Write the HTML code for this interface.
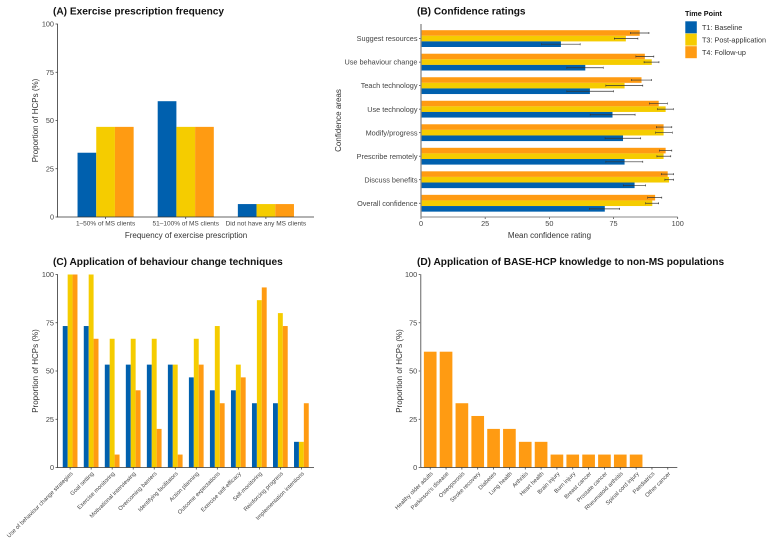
<!DOCTYPE html>
<html lang="en">
<head>
<meta charset="utf-8">
<title>HCP exercise prescription charts</title>
<style>
html,body{margin:0;padding:0;background:#fff;overflow:hidden;}
svg{display:block;filter:blur(0.3px);}
text{font-family:"Liberation Sans",sans-serif;fill:#333;}
.title{font-size:10.15px;font-weight:bold;fill:#111;}
.tick{font-size:7.3px;fill:#444;}
.cat{font-size:6.5px;fill:#444;}
.rot{font-size:5.75px;fill:#444;}
.axt{font-size:8px;fill:#333;}
.lg{font-size:7.25px;fill:#333;}
</style>
</head>
<body>
<svg id="chart" xmlns="http://www.w3.org/2000/svg" width="771" height="545" viewBox="0 0 771 545">
  <rect width="771" height="545" fill="#fff"/>
  <text class="title" x="53" y="14.5">(A) Exercise prescription frequency</text>
  <text class="title" x="417" y="14.5">(B) Confidence ratings</text>
  <text class="title" x="53" y="265">(C) Application of behaviour change techniques</text>
  <text class="title" x="417" y="265">(D) Application of BASE-HCP knowledge to non-MS populations</text>

  <text class="axt" x="186" y="238" text-anchor="middle">Frequency of exercise prescription</text>
  <text class="axt" transform="translate(38 120.5) rotate(-90)" text-anchor="middle">Proportion of HCPs (%)</text>
  <text class="axt" x="549.5" y="238" text-anchor="middle">Mean confidence rating</text>
  <text class="axt" transform="translate(341 120.5) rotate(-90)" text-anchor="middle">Confidence areas</text>
  <text class="axt" transform="translate(38 371) rotate(-90)" text-anchor="middle">Proportion of HCPs (%)</text>
  <text class="axt" transform="translate(402 371) rotate(-90)" text-anchor="middle">Proportion of HCPs (%)</text>

  <g>
    <text class="lg" x="685" y="16" style="font-weight:bold;fill:#111">Time Point</text>
    <rect x="685.3" y="21.3" width="11.5" height="12" fill="#0060ae"/>
    <rect x="685.3" y="33.6" width="11.5" height="12" fill="#f5cc00"/>
    <rect x="685.3" y="46.2" width="11.5" height="12" fill="#ff9b12"/>
    <text class="lg" x="702" y="30">T1: Baseline</text>
    <text class="lg" x="702" y="42.5">T3: Post-application</text>
    <text class="lg" x="702" y="55">T4: Follow-up</text>
  </g>
</svg>
<script>
const pctTicks = [0, 25, 50, 75, 100];
const ratingTicks = [0, 25, 50, 75, 100];

const aCategories = ["1\u201350% of MS clients", "51\u2013100% of MS clients", "Did not have any MS clients"];
const aBaseline = [33.3, 60, 6.7];
const aPost = [46.7, 46.7, 6.7];
const aFollow = [46.7, 46.7, 6.7];

const bCategories = ["Suggest resources", "Use behaviour change", "Teach technology", "Use technology", "Modify/progress", "Prescribe remotely", "Discuss benefits", "Overall confidence"];
const bBaseline = [54.5, 64, 65.8, 74.6, 78.7, 79.3, 83.2, 71.6];
const bBaselineLow = [47, 56.8, 56.8, 65.9, 71.7, 72, 78.8, 65.6];
const bBaselineHigh = [62, 71, 75, 83.4, 85.6, 86.4, 87.5, 77.4];
const bPost = [79.8, 89.9, 79.3, 95.3, 94.5, 94.5, 96.6, 90.1];
const bPostLow = [75.3, 86.9, 72, 92.2, 91.4, 91.9, 95, 87.5];
const bPostHigh = [84.5, 92.7, 86.4, 98.3, 97.9, 97.3, 98.4, 92.6];
const bFollow = [85.2, 87.2, 85.9, 92.6, 94.5, 95.3, 96.1, 91.2];
const bFollowLow = [81.6, 83.7, 82, 89, 91.7, 92.9, 93.6, 88.3];
const bFollowHigh = [88.8, 90.7, 89.8, 96, 97.7, 97.7, 98.4, 93.8];

const cCategories = ["Use of behaviour change strategies", "Goal setting", "Exercise monitoring", "Motivational interviewing", "Overcoming barriers", "Identifying facilitators", "Action planning", "Outcome expectations", "Exercise self-efficacy", "Self-monitoring", "Reinforcing progress", "Implementation intentions"];
const cBaseline = [73.3, 73.3, 53.3, 53.3, 53.3, 53.3, 46.7, 40, 40, 33.3, 33.3, 13.3];
const cPost = [100, 100, 66.7, 66.7, 66.7, 53.3, 66.7, 73.3, 53.3, 86.7, 80, 13.3];
const cFollow = [100, 66.7, 6.7, 40, 20, 6.7, 53.3, 33.3, 46.7, 93.3, 73.3, 33.3];

const dCategories = ["Healthy older adults", "Parkinson's disease", "Osteoporosis", "Stroke recovery", "Diabetes", "Lung health", "Arthritis", "Heart health", "Brain injury", "Burn injury", "Breast cancer", "Prostate cancer", "Rheumatoid arthritis", "Spinal cord injury", "Paediatrics", "Other cancer"];
const dFollow = [60, 60, 33.3, 26.7, 20, 20, 13.3, 13.3, 6.7, 6.7, 6.7, 6.7, 6.7, 6.7, 0, 0];

const BLUE = "#0060ae", YELLOW = "#f5cc00", ORANGE = "#ff9b12";
const NS = "http://www.w3.org/2000/svg";
const svg = document.getElementById("chart");

function make(tag, attrs) {
  const e = document.createElementNS(NS, tag);
  for (const k in attrs) e.setAttribute(k, attrs[k]);
  svg.appendChild(e);
  return e;
}
function linear(d0, d1, r0, r1) {
  return function (v) { return r0 + (v - d0) * (r1 - r0) / (d1 - d0); };
}
function band(n, r0, r1, pad) {
  const step = (r1 - r0) / (n - 1 + 2 * pad);
  const f = function (i) { return r0 + (pad + i) * step; };
  f.step = step;
  return f;
}
function drawBar(x, y, w, h, fill, name) {
  const r = make("rect", { x: x, y: y, width: Math.max(w, 0), height: Math.max(h, 0), fill: fill });
  
  
}
function drawLine(x1, y1, x2, y2, color, width, name) {
  const l = make("line", { x1: x1, y1: y1, x2: x2, y2: y2, stroke: color, "stroke-width": width });
  
  
}
function drawText(x, y, str, cls, anchor, name, rotate) {
  const t = make("text", { x: x, y: y, "class": cls, "text-anchor": anchor });
  if (rotate) t.setAttribute("transform", "rotate(" + rotate + " " + x + " " + y + ")");
  t.textContent = str;
  
  
}
function pctAxis(y, left, right, yColor, xColor, yWidth, prefix) {
  pctTicks.forEach(function (v) {
    drawLine(left - 2, y(v), left, y(v), "#333", 0.7, prefix + "-y-tick");
    drawText(left - 3.5, y(v) + 2.6, String(v), "tick", "end", prefix + "-y-tick-label");
  });
  drawLine(left, y(100) - 0.3, left, y(0) + 0.4, yColor, yWidth, prefix + "-y-axis");
  drawLine(left, y(0), right, y(0), xColor, 0.8, prefix + "-x-axis");
}

/* Panel A */
(function () {
  const left = 57.5, right = 314;
  const y = linear(0, 100, 217, 24);
  const x = band(aCategories.length, left, right, 0.6);
  const w = x.step * 0.7 / 3;
  const series = [[aBaseline, BLUE, "t1"], [aPost, YELLOW, "t3"], [aFollow, ORANGE, "t4"]];
  series.forEach(function (s, k) {
    s[0].forEach(function (v, i) {
      drawBar(x(i) - 1.5 * w + k * w, y(v), w, y(0) - y(v), s[1], "panel-a-bar-" + s[2]);
    });
  });
  pctAxis(y, left, right, "#333", "#333", 0.8, "panel-a");
  aCategories.forEach(function (c, i) {
    drawLine(x(i), y(0), x(i), y(0) + 2, "#333", 0.7, "panel-a-x-tick");
    drawText(x(i), 225.4, c, "cat", "middle", "panel-a-x-tick-label");
  });
})();

/* Panel B */
(function () {
  const left = 421, bottom = 217;
  const x = linear(0, 100, 421, 677.7);
  const rowY = function (i) { return 38.6 + i * 23.52; };
  const h = 5.6;
  const series = [
    [bFollow, bFollowLow, bFollowHigh, ORANGE, "t4", -1.5],
    [bPost, bPostLow, bPostHigh, YELLOW, "t3", -0.5],
    [bBaseline, bBaselineLow, bBaselineHigh, BLUE, "t1", 0.5]
  ];
  series.forEach(function (s) {
    s[0].forEach(function (v, i) {
      drawBar(x(0), rowY(i) + s[5] * h, x(v) - x(0), h, s[3], "panel-b-bar-" + s[4]);
    });
  });
  series.forEach(function (s) {
    s[0].forEach(function (v, i) {
      const cy = rowY(i) + (s[5] + 0.5) * h;
      drawLine(x(s[1][i]), cy, x(s[2][i]), cy, "#333", 0.7, "panel-b-error-bar-" + s[4]);
      drawLine(x(s[1][i]), cy - 1, x(s[1][i]), cy + 1, "#333", 0.6, "panel-b-error-cap-" + s[4]);
      drawLine(x(s[2][i]), cy - 1, x(s[2][i]), cy + 1, "#333", 0.6, "panel-b-error-cap-" + s[4]);
    });
  });
  bCategories.forEach(function (c, i) {
    drawLine(left - 2, rowY(i), left, rowY(i), "#333", 0.7, "panel-b-y-tick");
    drawText(left - 3.5, rowY(i) + 2.6, c, "tick", "end", "panel-b-y-tick-label");
  });
  ratingTicks.forEach(function (v) {
    drawLine(x(v), bottom, x(v), bottom + 2, "#333", 0.7, "panel-b-x-tick");
    drawText(x(v), 225.8, String(v), "tick", "middle", "panel-b-x-tick-label");
  });
  drawLine(left, 24, left, bottom, "#888", 1.3, "panel-b-y-axis");
  drawLine(left, bottom, x(100), bottom, "#888", 1, "panel-b-x-axis");
})();

/* Panel C */
(function () {
  const left = 57.5, right = 314;
  const y = linear(0, 100, 467.5, 274.5);
  const x = band(cCategories.length, left, right, 0.6);
  const w = x.step * 0.7 / 3;
  const series = [[cBaseline, BLUE, "t1"], [cPost, YELLOW, "t3"], [cFollow, ORANGE, "t4"]];
  series.forEach(function (s, k) {
    s[0].forEach(function (v, i) {
      drawBar(x(i) - 1.5 * w + k * w, y(v), w, y(0) - y(v), s[1], "panel-c-bar-" + s[2]);
    });
  });
  pctAxis(y, left, right, "#333", "#333", 0.8, "panel-c");
  cCategories.forEach(function (c, i) {
    drawLine(x(i), y(0), x(i), y(0) + 2, "#333", 0.7, "panel-c-x-tick");
    drawText(x(i) + 3, 474, c, "rot", "end", "panel-c-x-tick-label", -45);
  });
})();

/* Panel D */
(function () {
  const left = 420.7, right = 677.3;
  const y = linear(0, 100, 467.5, 274.5);
  const x = band(dCategories.length, left, right, 0.6);
  const w = x.step * 0.8;
  dFollow.forEach(function (v, i) {
    drawBar(x(i) - w / 2, y(v), w, y(0) - y(v), ORANGE, "panel-d-bar");
  });
  pctAxis(y, left, right, "#888", "#333", 1.3, "panel-d");
  dCategories.forEach(function (c, i) {
    drawLine(x(i), y(0), x(i), y(0) + 2, "#333", 0.7, "panel-d-x-tick");
    drawText(x(i) + 3, 474, c, "rot", "end", "panel-d-x-tick-label", -45);
  });
})();
</script>
</body>
</html>
